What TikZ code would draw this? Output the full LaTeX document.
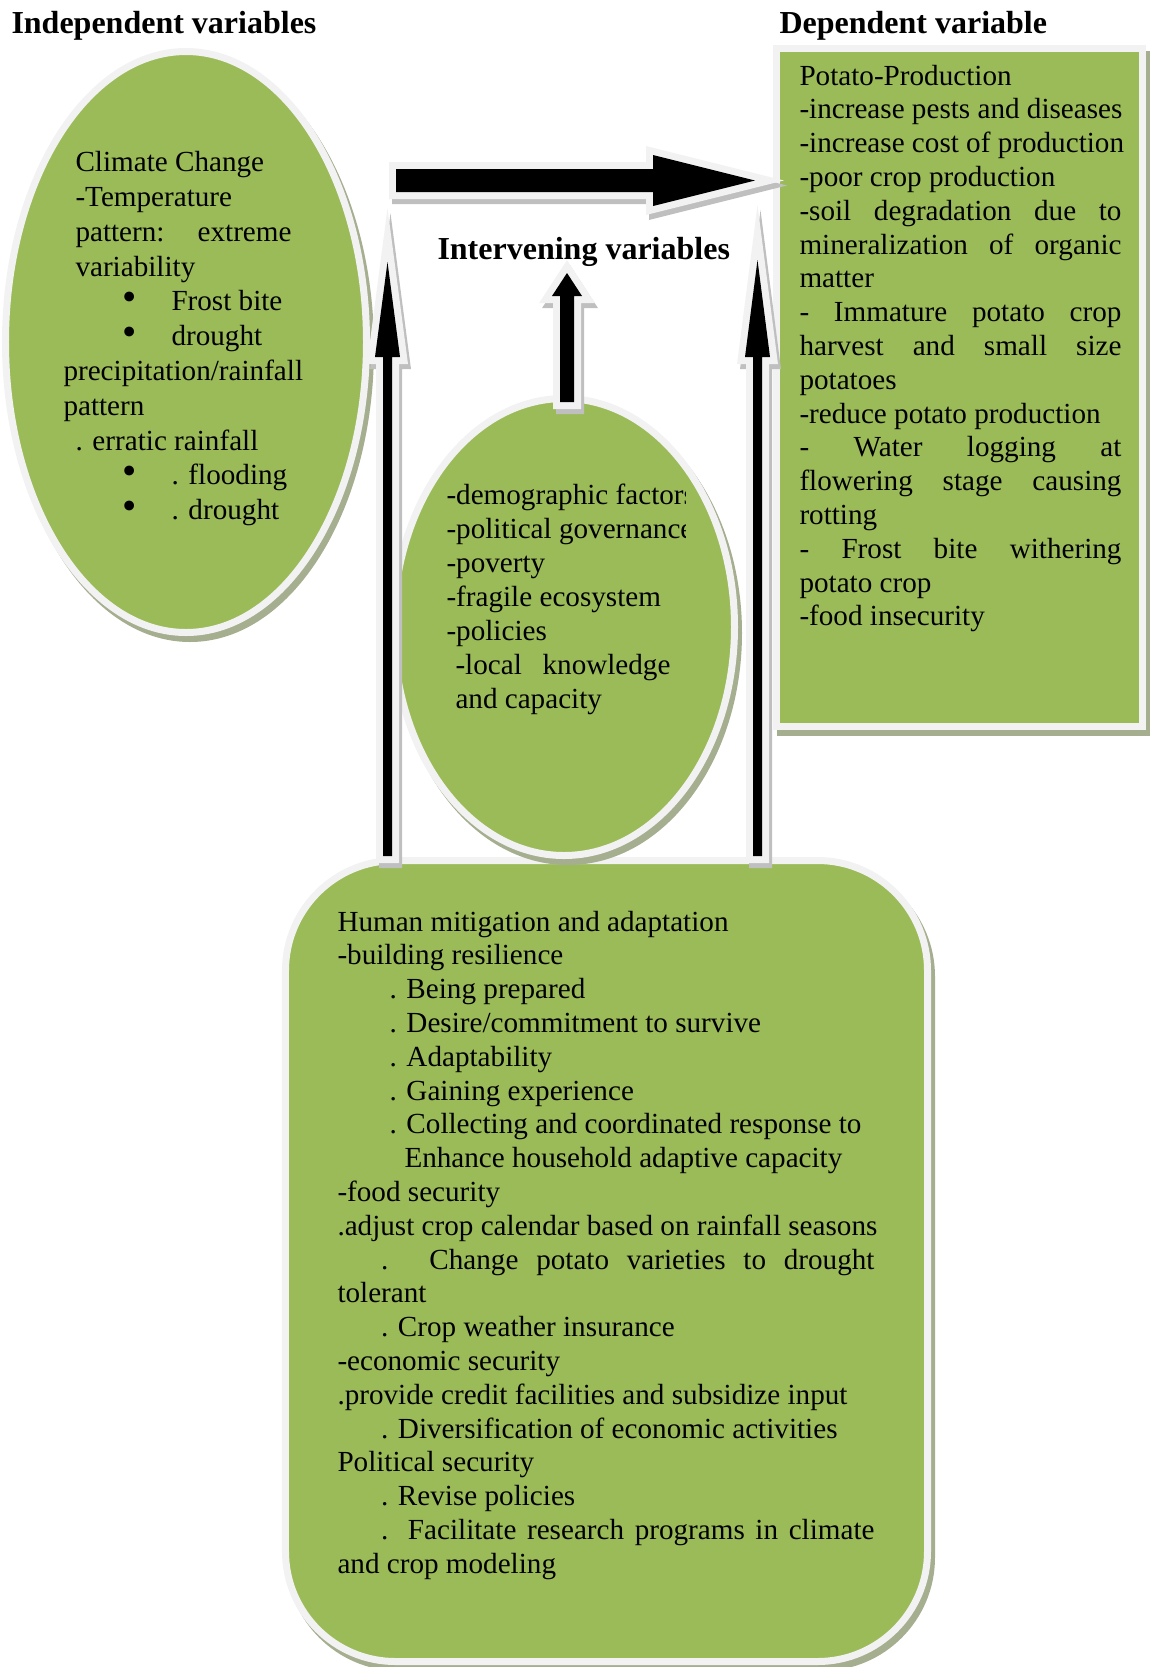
\documentclass[tikz,border=0pt]{standalone}
\usepackage{fontspec}
\setmainfont{Liberation Serif}
\usepackage{graphicx}
\usepackage{tikz}
\usetikzlibrary{calc}
\usetikzlibrary{shapes.geometric}
\definecolor{leaf}{HTML}{9BBB59}
\definecolor{rim}{HTML}{F2F2F2}
\definecolor{shadowcol}{HTML}{A5AE8F}
\newcommand{\bodyfont}{\fontsize{11.66}{13.52}\selectfont}
\newcommand{\headfont}{\fontsize{12.8}{15}\selectfont\bfseries}
\newcommand{\jline}[2]{\makebox[#1][s]{#2}}
\newcommand{\blt}{\hspace*{23.5pt}\makebox[19.7pt][l]{\smash{\scalebox{1.4}{\textbullet}}}}
\newcommand{\uparr}[5]{($(#1)+(-#3,0)$) -- ($(#2)+(-#3,#5)$) -- ($(#2)+(-#4,#5)$) -- (#2) -- ($(#2)+(#4,#5)$) -- ($(#2)+(#3,#5)$) -- ($(#1)+(#3,0)$) -- cycle}
\newcommand{\rightarr}[5]{($(#1)+(0,-#3)$) -- ($(#2)+(-#5,-#3)$) -- ($(#2)+(-#5,-#4)$) -- (#2) -- ($(#2)+(-#5,#4)$) -- ($(#2)+(-#5,#3)$) -- ($(#1)+(0,#3)$) -- cycle}

\begin{document}
\begin{tikzpicture}[x=0.4pt,y=-0.4pt]
\tikzstyle{boxshadow}=[preaction={draw=shadowcol, fill=shadowcol, line width=2.8pt, transform canvas={shift={(4,6)}}}]
\tikzstyle{bubble}=[ellipse, draw=rim, fill=leaf, line width=2.8pt, inner sep=0pt, boxshadow]
\tikzstyle{panel}=[rectangle, draw=rim, fill=leaf, line width=2.8pt, inner sep=0pt, boxshadow]
\tikzstyle{blockarrow}=[fill=black, preaction={draw=black!25, fill=black!25, line width=5.6pt, transform canvas={shift={(3,5)}}}, preaction={draw=rim, line width=5.6pt}]
\tikzstyle{txt}=[anchor=base west, inner sep=0pt, font=\bodyfont]
\tikzstyle{heading}=[anchor=base west, inner sep=0pt, font=\headfont]

\useasboundingbox (0,0) rectangle (1149,1667);

% the four boxes
\node[panel, rounded corners=44pt, minimum width=256.8pt, minimum height=320.4pt] (human) at (606.5,1261) {};
\node[bubble, minimum width=144.4pt, minimum height=232.4pt] (climate) at (186,342) {};
\node[panel, minimum width=146.4pt, minimum height=271.2pt] (potato) at (959.5,387.5) {};
\node[bubble, minimum width=136.4pt, minimum height=182.8pt] (inter) at (564,627) {};

% block arrows
\coordinate (A) at (396,180.5);
\coordinate (B) at (755,180.5);
\coordinate (C) at (387.5,856);
\coordinate (D) at (387.5,262);
\coordinate (E) at (757.5,856);
\coordinate (F) at (757.5,260);
\coordinate (G) at (567,402);
\coordinate (H) at (567,273);

\path[blockarrow] \uparr{C}{D}{4.5}{12.5}{95};
\path[blockarrow] \uparr{E}{F}{4.5}{12.5}{97};
\path[blockarrow] \uparr{G}{H}{7}{15}{23};
\path[blockarrow] \rightarr{A}{B}{11.5}{25.5}{102};

% headings
\node[heading] (indep) at (11,33.3) {Independent variables};
\node[heading] (dep) at (779,33) {Dependent variable};
\node[heading] (interv) at (437,259) {Intervening variables};

% texts
\node[txt] (climatetext) at (63,171.7) {\parbox[t]{120pt}{\fontsize{11.66}{13.92}\selectfont
\hspace*{4.8pt}Climate Change\\
\hspace*{4.8pt}-Temperature\\
\hspace*{4.8pt}\jline{86.4pt}{pattern: extreme}\\
\hspace*{4.8pt}variability\\
\blt Frost bite\\
\blt drought\\
precipitation/rainfall\\
pattern\\
\hspace*{4.8pt}. erratic rainfall\\
\blt . flooding\\
\blt . drought}};

\begin{scope}
\clip (440,470) rectangle (685,730);
\node[txt] (intertext) at (446,504) {\parbox[t]{120pt}{\fontsize{11.66}{13.6}\selectfont
-demographic factors\\
-political governance\\
-poverty\\
-fragile ecosystem\\
-policies\\
\hspace*{3.6pt}\jline{86pt}{-local knowledge}\\
\hspace*{3.6pt}and capacity}};
\end{scope}

\node[txt] (potatotext) at (799,85) {\parbox[t]{160pt}{%
Potato-Production\\
-increase pests and diseases\\
-increase cost of production\\
-poor crop production\\
\jline{128.8pt}{-soil degradation due to}\\
\jline{128.8pt}{mineralization of organic}\\
matter\\
\jline{128.8pt}{- Immature potato crop}\\
\jline{128.8pt}{harvest and small size}\\
potatoes\\
-reduce potato production\\
\jline{128.8pt}{- Water logging at}\\
\jline{128.8pt}{flowering stage causing}\\
rotting\\
\jline{128.8pt}{- Frost bite withering}\\
potato crop\\
-food insecurity}};

\node[txt] (humantext) at (337,931) {\parbox[t]{260pt}{%
Human mitigation and adaptation\\
-building resilience\\
\hspace*{20.8pt}. Being prepared\\
\hspace*{20.8pt}. Desire/commitment to survive\\
\hspace*{20.8pt}. Adaptability\\
\hspace*{20.8pt}. Gaining experience\\
\hspace*{20.8pt}. Collecting and coordinated response to\\
\hspace*{26.8pt}Enhance household adaptive capacity\\
-food security\\
.adjust crop calendar based on rainfall seasons\\
\jline{214.8pt}{\hspace*{17.4pt}. Change potato varieties to drought}\\
tolerant\\
\hspace*{17.4pt}. Crop weather insurance\\
-economic security\\
.provide credit facilities and subsidize input\\
\hspace*{17.4pt}. Diversification of economic activities\\
Political security\\
\hspace*{17.4pt}. Revise policies\\
\jline{214.8pt}{\hspace*{17.4pt}. Facilitate research programs in climate}\\
and crop modeling}};
\end{tikzpicture}
\end{document}
